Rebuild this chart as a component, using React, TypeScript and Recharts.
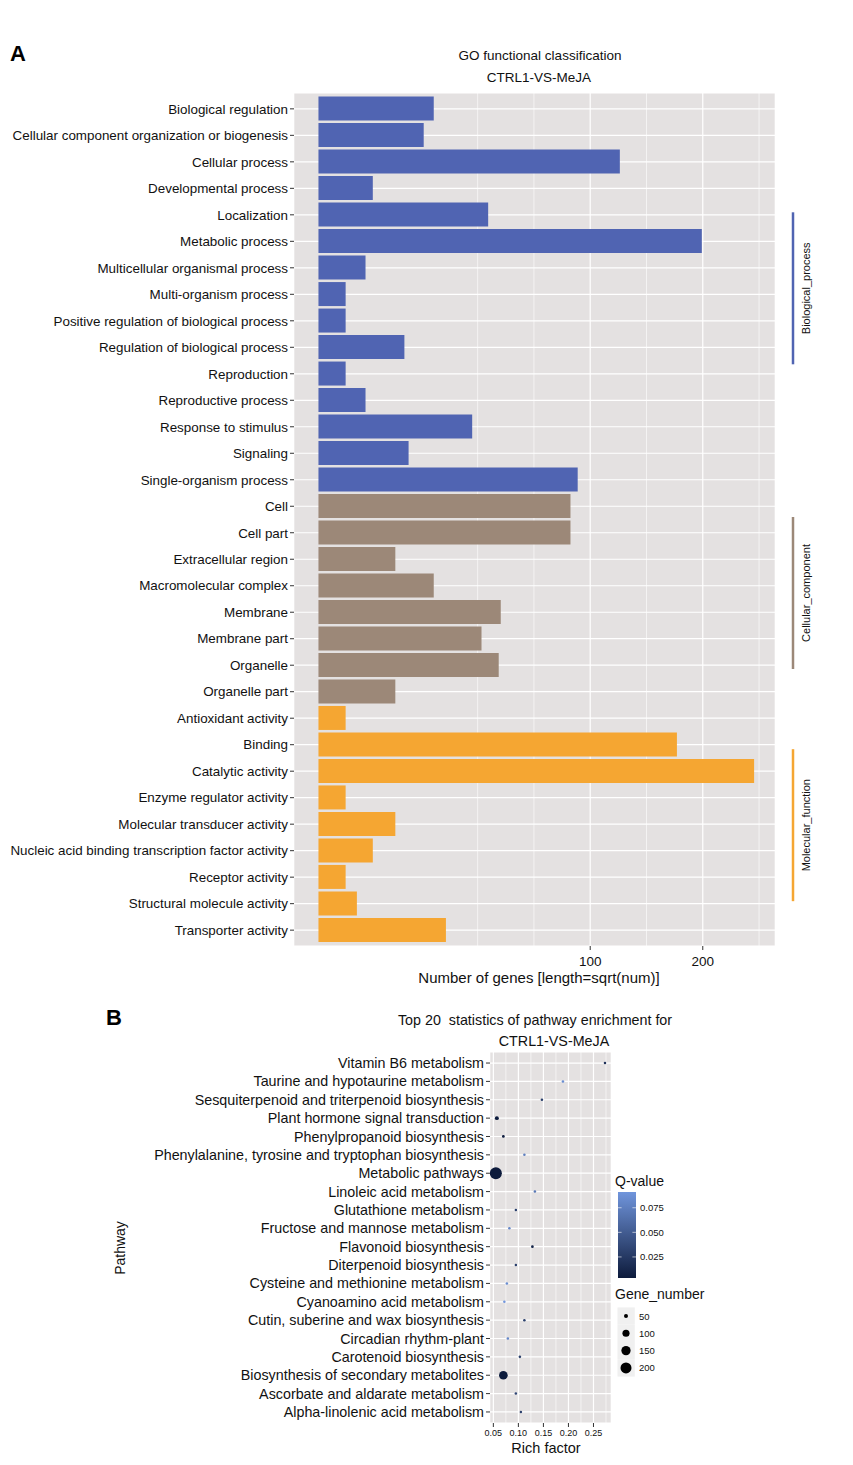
import React from 'react';
import { BarChart, Bar, Cell, XAxis, YAxis, CartesianGrid, ScatterChart, Scatter } from 'recharts';

// ---- panel A: GO classification ----
const goTerms = [
  'Biological regulation',
  'Cellular component organization or biogenesis',
  'Cellular process',
  'Developmental process',
  'Localization',
  'Metabolic process',
  'Multicellular organismal process',
  'Multi-organism process',
  'Positive regulation of biological process',
  'Regulation of biological process',
  'Reproduction',
  'Reproductive process',
  'Response to stimulus',
  'Signaling',
  'Single-organism process',
  'Cell',
  'Cell part',
  'Extracellular region',
  'Macromolecular complex',
  'Membrane',
  'Membrane part',
  'Organelle',
  'Organelle part',
  'Antioxidant activity',
  'Binding',
  'Catalytic activity',
  'Enzyme regulator activity',
  'Molecular transducer activity',
  'Nucleic acid binding transcription factor activity',
  'Receptor activity',
  'Structural molecule activity',
  'Transporter activity',
];
const goCounts = [18, 15, 123, 4, 39, 199, 3, 1, 1, 10, 1, 3, 32, 11, 91, 86, 86, 8, 18, 45, 36, 44, 8, 1, 174, 257, 1, 8, 4, 1, 2, 22];
const goGroups = [0, 0, 0, 0, 0, 0, 0, 0, 0, 0, 0, 0, 0, 0, 0, 1, 1, 1, 1, 1, 1, 1, 1, 2, 2, 2, 2, 2, 2, 2, 2, 2];
const groupNames = ['Biological_process', 'Cellular_component', 'Molecular_function'];
const groupColors = ['#5064B2', '#9C8878', '#F5A632'];
const goMajorTicks = [100, 200];

// ---- panel B: KEGG enrichment ----
const pathways = [
  'Vitamin B6 metabolism',
  'Taurine and hypotaurine metabolism',
  'Sesquiterpenoid and triterpenoid biosynthesis',
  'Plant hormone signal transduction',
  'Phenylpropanoid biosynthesis',
  'Phenylalanine, tyrosine and tryptophan biosynthesis',
  'Metabolic pathways',
  'Linoleic acid metabolism',
  'Glutathione metabolism',
  'Fructose and mannose metabolism',
  'Flavonoid biosynthesis',
  'Diterpenoid biosynthesis',
  'Cysteine and methionine metabolism',
  'Cyanoamino acid metabolism',
  'Cutin, suberine and wax biosynthesis',
  'Circadian rhythm-plant',
  'Carotenoid biosynthesis',
  'Biosynthesis of secondary metabolites',
  'Ascorbate and aldarate metabolism',
  'Alpha-linolenic acid metabolism',
];
const richFactor = [0.273, 0.189, 0.147, 0.057, 0.07, 0.112, 0.055, 0.133, 0.095, 0.082, 0.128, 0.095, 0.077, 0.072, 0.112, 0.079, 0.103, 0.07, 0.095, 0.105];
const geneNumber = [6, 4, 8, 50, 38, 9, 233, 5, 14, 9, 38, 7, 10, 9, 10, 8, 12, 135, 9, 12];
const qValue = [0.02, 0.085, 0.03, 0.004, 0.005, 0.075, 0.0036, 0.07, 0.03, 0.08, 0.01, 0.03, 0.085, 0.091, 0.03, 0.08, 0.03, 0.004, 0.035, 0.03];
const richTicks = [0.05, 0.1, 0.15, 0.2, 0.25];
const qTicks = [0.025, 0.05, 0.075];
const sizeTicks = [50, 100, 150, 200];

const FONT = '"Liberation Sans", Arial, Helvetica, sans-serif';
const PANEL = '#E4E1E1';
const INK = '#111';

// A layout
const A_W = 853;
const A_H = 1000;
const A_TOP = 93;
const A_YW = 294;
const A_RIGHT = 78;
const A_XH = 54;
const A_PAD = 2.6;
const A_PLOT_H = A_H - A_TOP - A_XH;
const A_BAND = (A_PLOT_H - 2 * A_PAD) / goTerms.length;

const goData = goTerms.map((name, i) => ({ name, root: Math.sqrt(goCounts[i]), group: goGroups[i] }));
const sqrtMajor = goMajorTicks.map(Math.sqrt);
const sqrtStep = sqrtMajor[1] - sqrtMajor[0];
const sqrtMinor = [sqrtMajor[0] - sqrtStep, sqrtMajor[0] - sqrtStep / 2, sqrtMajor[0] + sqrtStep / 2, sqrtMajor[1] + sqrtStep / 2];
const goXTicks = [...sqrtMinor, ...sqrtMajor].sort((a, b) => a - b);

// B layout
const B_TOP = 1000;
const B_W = 853;
const B_H = 465;
const B_YW = 490;
const B_RIGHT = 242;
const B_PTOP = 52;
const B_XH = 42;
const richMinor = richTicks.map((t) => t + 0.025);
const richAll = [...richTicks, ...richMinor].sort((a, b) => a - b);

const qMin = Math.min(...qValue);
const qMax = Math.max(...qValue);
const lowCol = [13, 27, 60];
const highCol = [112, 149, 220];
const qColor = (q: number) => {
  const t = Math.max(0, Math.min(1, (q - qMin) / (qMax - qMin)));
  const c = lowCol.map((l, i) => Math.round(l + (highCol[i] - l) * t));
  return `rgb(${c[0]},${c[1]},${c[2]})`;
};
const dotRadius = (g: number) => Math.sqrt(Math.max(5, 0.55 * g - 15) / Math.PI);

const keggData = pathways.map((name, i) => ({ name, rich: richFactor[i], genes: geneNumber[i], q: qValue[i] }));

const LabelTick = (props: any) => {
  const { x, y, payload, size } = props;
  return (
    <text x={x} y={y} dy="0.355em" textAnchor="end" fontSize={size} fill={INK}>
      {payload.value}
    </text>
  );
};

const GoXTick = (props: any) => {
  const { x, y, payload } = props;
  const v = payload.value;
  const major = sqrtMajor.some((m) => Math.abs(m - v) < 1e-6);
  if (!major) return <g />;
  return (
    <g>
      <line x1={x} x2={x} y1={y} y2={y + 4} stroke="#333" strokeWidth={1} />
      <text x={x} y={y + 20} textAnchor="middle" fontSize={13.5} fill={INK}>
        {Math.round(v * v)}
      </text>
    </g>
  );
};

const GroupTick = (props: any) => {
  const { x, y, index } = props;
  const g = goGroups[index];
  if (index > 0 && goGroups[index - 1] === g) return <g />;
  const n = goGroups.filter((v) => v === g).length;
  const cy = y + ((n - 1) / 2) * A_BAND - (g < 2 ? 6 : -1);
  return (
    <g>
      <line x1={x + 18} x2={x + 18} y1={cy - 76} y2={cy + 76} stroke={groupColors[g]} strokeWidth={2.5} />
      <text
        transform={`translate(${x + 31},${cy}) rotate(-90)`}
        textAnchor="middle"
        dominantBaseline="central"
        fontSize={11}
        fill={INK}
      >
        {groupNames[g]}
      </text>
    </g>
  );
};

const RichTick = (props: any) => {
  const { x, y, payload } = props;
  const v = payload.value;
  const major = richTicks.some((m) => Math.abs(m - v) < 1e-9);
  if (!major) return <g />;
  return (
    <g>
      <line x1={x} x2={x} y1={y} y2={y + 4} stroke="#333" strokeWidth={1} />
      <text x={x} y={y + 13} textAnchor="middle" fontSize={9} fill={INK}>
        {v.toFixed(2)}
      </text>
    </g>
  );
};

const gridLine = (ticks: number[], majors: number[]) => (p: any) => {
  const v = ticks[p.index];
  const major = majors.some((m) => Math.abs(m - v) < 1e-9);
  return (
    <line
      key={`v-${p.index}`}
      x1={p.x1}
      x2={p.x2}
      y1={p.y1}
      y2={p.y2}
      stroke="#fff"
      strokeWidth={major ? 1.2 : 0.6}
    />
  );
};

export default function App() {
  const qBarTop = 1192;
  const qBarH = 86;
  const qY = (q: number) => qBarTop + qBarH - ((q - qMin) / (qMax - qMin)) * qBarH;
  return (
    <div style={{ position: 'absolute', left: 0, top: 0, width: 853, height: 1465, background: '#fff', fontFamily: FONT }}>
      <div style={{ position: 'absolute', left: 0, top: 0 }}>
        <BarChart
          width={A_W}
          height={A_H}
          data={goData}
          layout="vertical"
          margin={{ top: A_TOP, right: 0, bottom: 0, left: 0 }}
        >
          <CartesianGrid
            yAxisId="terms"
            fill={PANEL}
            fillOpacity={1}
            stroke="#fff"
            strokeWidth={1.2}
            vertical={gridLine(goXTicks, sqrtMajor)}
          />
          <XAxis
            type="number"
            dataKey="root"
            domain={[-0.9, 16.8]}
            allowDataOverflow
            ticks={goXTicks}
            interval={0}
            tick={<GoXTick />}
            tickLine={false}
            tickSize={0}
            tickMargin={0}
            axisLine={false}
            height={A_XH}
          />
          <YAxis
            yAxisId="terms"
            type="category"
            dataKey="name"
            width={A_YW}
            interval={0}
            padding={{ top: A_PAD, bottom: A_PAD }}
            tick={<LabelTick size={13.4} />}
            tickSize={4}
            tickMargin={2}
            tickLine={{ stroke: '#333' }}
            axisLine={false}
          />
          <YAxis
            yAxisId="groups"
            orientation="right"
            type="category"
            dataKey="name"
            width={A_RIGHT}
            interval={0}
            padding={{ top: A_PAD, bottom: A_PAD }}
            tick={<GroupTick />}
            tickSize={0}
            tickMargin={0}
            tickLine={false}
            axisLine={false}
          />
          <Bar yAxisId="terms" dataKey="root" barSize={24} isAnimationActive={false}>
            {goData.map((d, i) => (
              <Cell key={i} fill={groupColors[d.group]} />
            ))}
          </Bar>
        </BarChart>
      </div>

      <div style={{ position: 'absolute', left: 0, top: B_TOP }}>
        <ScatterChart width={B_W} height={B_H} margin={{ top: B_PTOP, right: B_RIGHT, bottom: 0, left: 0 }}>
          <CartesianGrid
            fill={PANEL}
            fillOpacity={1}
            stroke="#fff"
            strokeWidth={1.2}
            vertical={gridLine(richAll, richTicks)}
          />
          <XAxis
            type="number"
            dataKey="rich"
            domain={[0.0433, 0.285]}
            allowDataOverflow
            ticks={richAll}
            interval={0}
            tick={<RichTick />}
            tickLine={false}
            tickSize={0}
            tickMargin={0}
            axisLine={false}
            height={B_XH}
          />
          <YAxis
            type="category"
            dataKey="name"
            width={B_YW}
            interval={0}
            reversed
            padding={{ top: 1.85, bottom: 1.85 }}
            tick={<LabelTick size={14.3} />}
            tickSize={4}
            tickMargin={2}
            tickLine={{ stroke: '#333' }}
            axisLine={false}
            allowDuplicatedCategory={false}
          />
          <Scatter
            data={keggData}
            isAnimationActive={false}
            shape={(p: any) => (
              <circle cx={p.cx} cy={p.cy} r={dotRadius(p.payload.genes)} fill={qColor(p.payload.q)} />
            )}
          />
        </ScatterChart>
      </div>

      <svg
        width={853}
        height={1465}
        style={{ position: 'absolute', left: 0, top: 0, pointerEvents: 'none', fontFamily: FONT }}
      >
        <text x={10} y={61} fontSize={22} fontWeight="bold" fill="#000">A</text>
        <text x={540} y={60} textAnchor="middle" fontSize={13.5} fill={INK}>GO functional classification</text>
        <text x={539} y={82} textAnchor="middle" fontSize={13.5} fill={INK}>CTRL1-VS-MeJA</text>
        <text x={539} y={983} textAnchor="middle" fontSize={15} fill={INK}>Number of genes [length=sqrt(num)]</text>

        <text x={106} y={1025} fontSize={22} fontWeight="bold" fill="#000">B</text>
        <text x={535} y={1025} textAnchor="middle" fontSize={14.3} fill={INK} style={{ whiteSpace: 'pre' }}>
          {'Top 20  statistics of pathway enrichment for'}
        </text>
        <text x={554} y={1046} textAnchor="middle" fontSize={14.3} fill={INK}>CTRL1-VS-MeJA</text>
        <text x={546} y={1453} textAnchor="middle" fontSize={14.5} fill={INK}>Rich factor</text>
        <text transform="translate(125,1248) rotate(-90)" textAnchor="middle" fontSize={14} fill={INK}>Pathway</text>

        <defs>
          <linearGradient id="qGrad" x1="0" y1="0" x2="0" y2="1">
            <stop offset="0%" stopColor={qColor(qMax)} />
            <stop offset="50%" stopColor={qColor((qMax + qMin) / 2)} />
            <stop offset="100%" stopColor={qColor(qMin)} />
          </linearGradient>
        </defs>
        <text x={615} y={1186} fontSize={14} fill={INK}>Q-value</text>
        <rect x={618} y={qBarTop} width={18} height={qBarH} fill="url(#qGrad)" />
        {qTicks.map((t) => (
          <g key={t}>
            <line x1={618} x2={621.6} y1={qY(t)} y2={qY(t)} stroke="#fff" strokeOpacity={0.6} />
            <line x1={632.4} x2={636} y1={qY(t)} y2={qY(t)} stroke="#fff" strokeOpacity={0.6} />
            <text x={640} y={qY(t) + 3.5} fontSize={9.5} fill={INK}>{t.toFixed(3)}</text>
          </g>
        ))}

        <text x={615} y={1299} fontSize={14} fill={INK}>Gene_number</text>
        {sizeTicks.map((s, i) => {
          const cy = 1316 + i * 17.3;
          return (
            <g key={s}>
              <rect x={617.5} y={cy - 8.6} width={17.3} height={17.3} fill="#F0F0F0" />
              <circle cx={626} cy={cy} r={dotRadius(s)} fill="#000" />
              <text x={639} y={cy + 3.5} fontSize={9.5} fill={INK}>{s}</text>
            </g>
          );
        })}
      </svg>
    </div>
  );
}
